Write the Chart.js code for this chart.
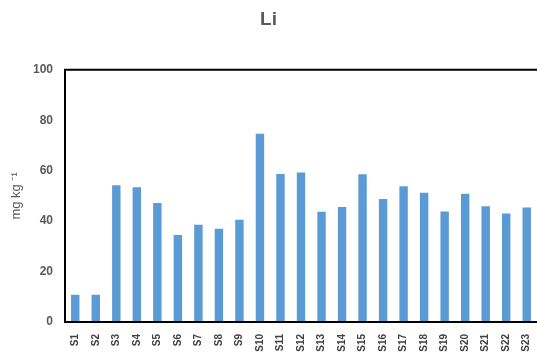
<!DOCTYPE html>
<html>
<head>
<meta charset="utf-8">
<script src="https://cdn.jsdelivr.net/npm/chart.js@4/dist/chart.umd.min.js"></script>
<style>
html,body{margin:0;padding:0;background:#fff;}
canvas{display:block;}
</style>
</head>
<body>
<canvas id="c" width="537" height="354"></canvas>
<script>
const categories = ["S1","S2","S3","S4","S5","S6","S7","S8","S9","S10","S11","S12","S13","S14","S15","S16","S17","S18","S19","S20","S21","S22","S23"];
const liValues = [10.8,10.8,54.2,53.4,47.2,34.5,38.6,37.0,40.5,74.6,58.7,59.3,43.7,45.6,58.6,48.8,53.8,51.2,43.8,50.9,45.9,43.0,45.4];
const yTicks = [0,20,40,60,80,100];

const boxPlugin = {
  id: 'box',
  afterDraw(chart) {
    const a = chart.chartArea, ctx = chart.ctx;
    ctx.save();
    ctx.strokeStyle = '#000';
    ctx.lineWidth = 2;
    ctx.beginPath();
    ctx.moveTo(a.right + 2, a.top);
    ctx.lineTo(a.left, a.top);
    ctx.lineTo(a.left, a.bottom);
    ctx.lineTo(a.right + 2, a.bottom);
    ctx.stroke();
    ctx.restore();
  }
};

new Chart(document.getElementById('c'), {
  type: 'bar',
  data: {
    labels: categories,
    datasets: [{
      data: liValues,
      backgroundColor: '#5B9BD5',
      borderWidth: 0,
      barPercentage: 0.41,
      categoryPercentage: 1.0
    }]
  },
  options: {
    responsive: false,
    animation: false,
    layout: { padding: { left: 0, right: 0, top: 0, bottom: 0 } },
    plugins: {
      legend: { display: false },
      tooltip: { enabled: false },
      title: {
        display: true,
        text: 'Li',
        color: '#595959',
        font: { family: 'Liberation Sans', size: 19, weight: 'bold' },
        padding: { top: 8, bottom: 39 }
      }
    },
    scales: {
      x: {
        grid: { display: false, drawTicks: false },
        border: { display: false },
        ticks: {
          color: '#404040',
          font: { family: 'Liberation Sans', size: 10, weight: 'bold' },
          minRotation: 90, maxRotation: 90,
          autoSkip: false,
          padding: 12
        },
        afterFit(s) { s.height = 32; s.paddingLeft = 0; s.paddingRight = 0; }
      },
      y: {
        min: 0, max: 100,
        afterBuildTicks(s) { s.ticks = yTicks.map(v => ({ value: v })); },
        grid: { display: false, drawTicks: false },
        border: { display: false },
        ticks: {
          color: '#595959',
          font: { family: 'Liberation Sans', size: 12, weight: 'bold' },
          padding: 12
        },
        title: {
          display: true,
          text: 'mg kg \u207B\u00B9',
          color: '#595959',
          font: { family: 'Liberation Sans', size: 13 },
          padding: { top: 9, bottom: 0 }
        },
        afterFit(s) { s.width = 65; s.paddingTop = 0; s.paddingBottom = 0; }
      }
    }
  },
  plugins: [boxPlugin]
});
</script>
</body>
</html>
